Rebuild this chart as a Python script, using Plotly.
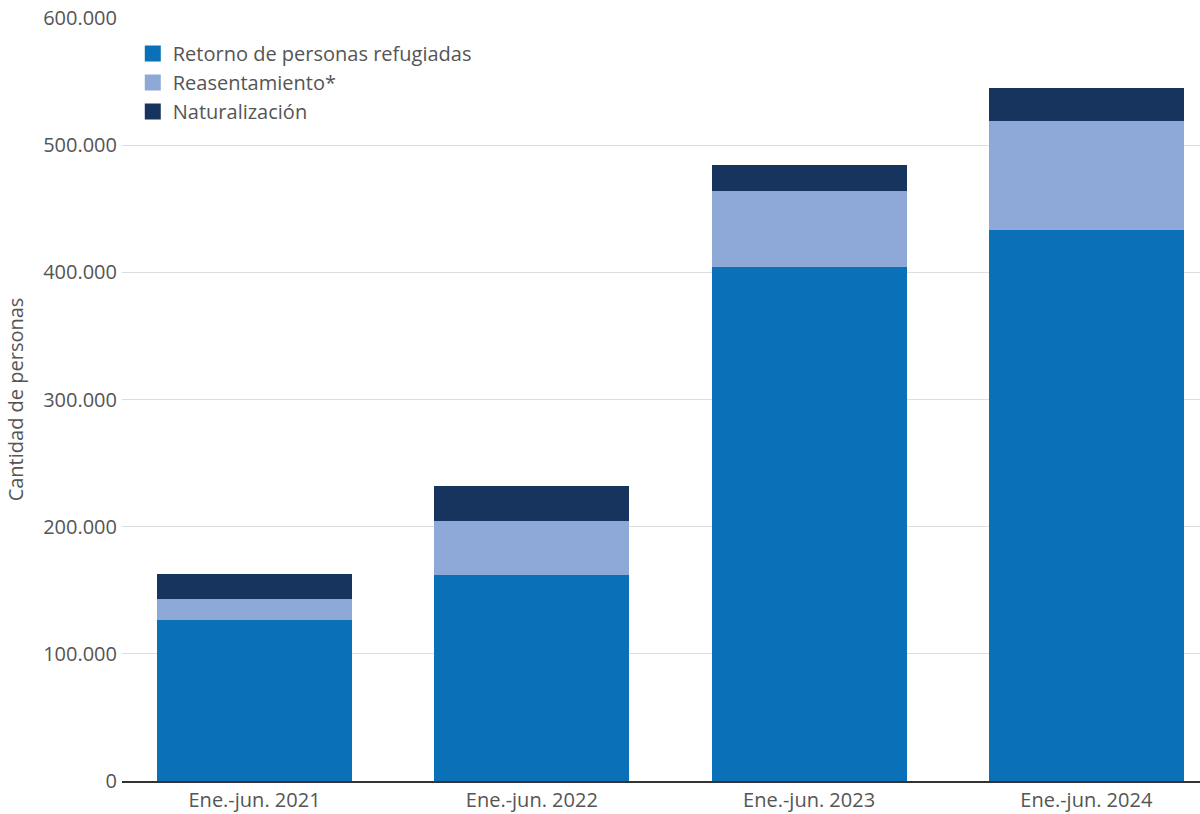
import plotly.graph_objects as go

periodos = ["Ene.-jun. 2021", "Ene.-jun. 2022", "Ene.-jun. 2023", "Ene.-jun. 2024"]
retorno = [126600, 162000, 404200, 433300]
reasentamiento = [16500, 42500, 59700, 85700]
naturalizacion = [19700, 27500, 20500, 26000]

series = [
    ("Retorno de personas refugiadas", retorno, "#0a71b9"),
    ("Reasentamiento*", reasentamiento, "#8ea9d8"),
    ("Naturalización", naturalizacion, "#16345d"),
]

fig = go.Figure()
for nombre, vals, color in series:
    fig.add_trace(go.Bar(x=periodos, y=vals, name=nombre, marker_color=color,
                         marker_line_width=0, showlegend=False))
# legend entries with bigger square swatches
for nombre, vals, color in series:
    fig.add_trace(go.Scatter(x=[None], y=[None], mode="markers", name=nombre,
                             legendgroup=nombre,
                             marker=dict(symbol="square", size=16, color=color)))

fig.update_layout(
    barmode="stack",
    bargap=0.297,
    width=1200, height=814,
    margin=dict(l=122, r=0, t=18, b=33),
    plot_bgcolor="white", paper_bgcolor="white",
    separators=",.",
    font=dict(family="Open Sans, sans-serif", size=20, color="#555"),
    legend=dict(x=0.01, y=0.979, xanchor="left", yanchor="top",
                traceorder="grouped", font=dict(size=20, color="#555"),
                itemwidth=30, tracegroupgap=0),
    showlegend=True,
)
fig.update_xaxes(range=[-0.478, 3.41], showline=True, linecolor="#333",
                 linewidth=1.5, ticks="", tickfont=dict(size=20, color="#555"))
fig.update_yaxes(range=[0, 600000], dtick=100000, tickformat=",d",
                 gridcolor="#dddddd", zeroline=False,
                 title=dict(text="Cantidad de personas", font=dict(size=20, color="#555"),
                            standoff=14),
                 tickfont=dict(size=20, color="#555"), ticklabelstandoff=4)

# no default body margin so the figure sits at the page corner
fig.write_html("out.html", config={"displayModeBar": False},
               post_script="document.body.style.margin='0';")
